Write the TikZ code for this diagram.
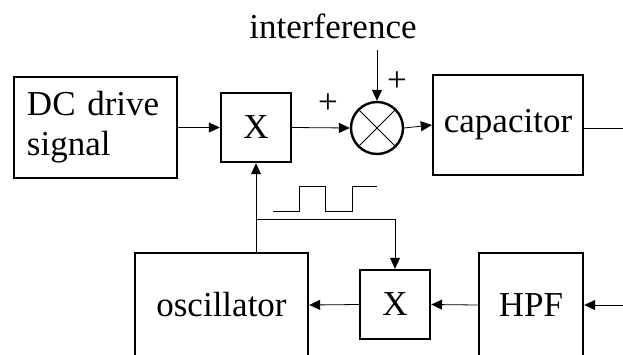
\documentclass[tikz,border=0pt]{standalone}
\usepackage{fontspec}
\setmainfont{Liberation Serif}
\usetikzlibrary{positioning, calc, arrows.meta}
\tikzset{
	blockbox/.style={draw, line width=2.4pt, inner sep=0pt, align=center},
	mixbox/.style={blockbox, minimum width=70pt, minimum height=69pt},
	sumnode/.style={draw, circle, line width=2.4pt, minimum size=52pt, inner sep=0pt},
	sig/.style={line width=0.8pt, -{Triangle[length=11pt, width=10pt]}}
}

\begin{document}
\begin{tikzpicture}[x=1pt, y=-1pt, font=\fontsize{35}{40}\selectfont]
					\useasboundingbox (0,0) rectangle (623,354);
					\clip (0,0) rectangle (623,354);
					% forward path
					\node[blockbox, minimum width=163pt, minimum height=101pt,
					text width=137pt, align=left] (dc) at (95.5,127.5) {DC drive\\signal};
					\node[mixbox] (mixa) at (256,127.5) {X};
					\node[sumnode] (sum) at (377,128) {};
					\draw[line width=0.8pt] (sum.north west) -- (sum.south east)
					(sum.north east) -- (sum.south west);
					\node[blockbox, minimum width=150pt, minimum height=100pt] (cap) at (508,125) {capacitor};
					\node (intf) at (333,26) {interference};
					\coordinate (intfend) at (377,50);
					\coordinate (capout) at (623,128);
					% feedback path
					\node[blockbox, minimum width=173pt, minimum height=104pt] (osc) at (221.5,305) {oscillator};
					\node[mixbox] (mixb) at (395,304.5) {X};
					\node[blockbox, minimum width=104pt, minimum height=104pt] (hpf) at (531,305) {HPF};
					\coordinate (hpfin) at (623,305);
					\coordinate (br) at (256,219);
					% connectors
					\draw[sig] (dc.east) -- (mixa.west);
					\draw[sig] (mixa.east) -- (sum.west);
					\draw[sig] (intfend) -- (sum.north);
					\draw[sig] (sum.east) -- (cap.west);
					\draw[line width=0.8pt] (cap.east |- capout) -- (capout);
					\draw[sig] (hpfin) -- (hpf.east);
					\draw[sig] (hpf.west) -- (mixb.east);
					\draw[sig] (mixb.west) -- (osc.east);
					\draw[sig] (mixa.south |- osc.north) -- (mixa.south);
					\draw[sig] (br) -| (mixb.north);
					\node at (328,104) {+};
					\node at (397,82) {+};
					% square wave
					\draw[line width=0.8pt] (273,211) -| (299,186) -| (325,211) -| (352,186) -- (377,186);
				\end{tikzpicture}
\end{document}
